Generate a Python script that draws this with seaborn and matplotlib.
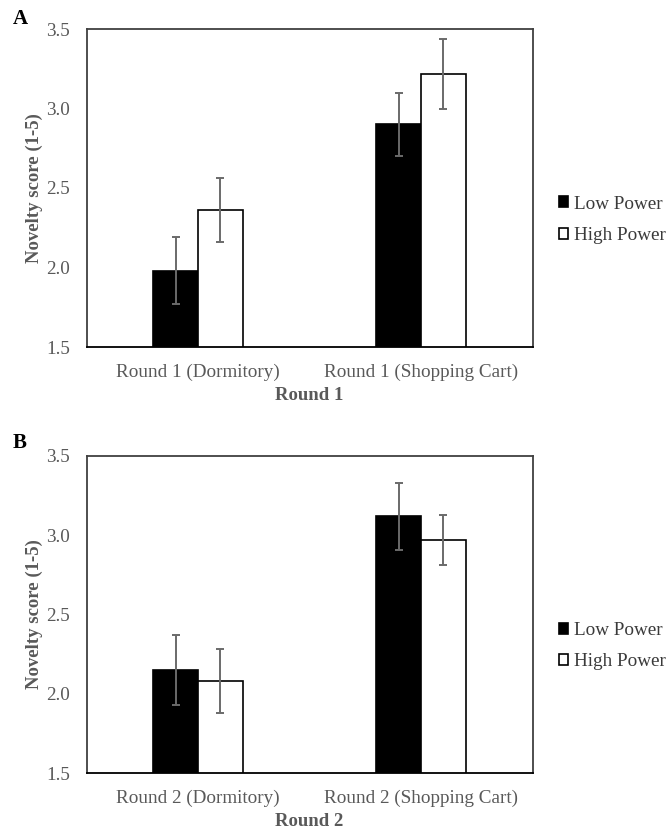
import matplotlib
matplotlib.use("Agg")
import matplotlib.pyplot as plt
import seaborn as sns
import pandas as pd

# Values
power_levels = ["Low Power", "High Power"]

round1_conditions = ["Round 1 (Dormitory)", "Round 1 (Shopping Cart)"]
round1_low = [1.98, 2.90]
round1_high = [2.36, 3.22]
round1_low_err = [0.21, 0.20]
round1_high_err = [0.20, 0.22]

round2_conditions = ["Round 2 (Dormitory)", "Round 2 (Shopping Cart)"]
round2_low = [2.15, 3.12]
round2_high = [2.08, 2.97]
round2_low_err = [0.22, 0.21]
round2_high_err = [0.20, 0.16]

y_ticks = [1.5, 2.0, 2.5, 3.0, 3.5]

sns.set_theme(style="white")
plt.rcParams["font.family"] = ["Liberation Serif", "DejaVu Serif"]

TICK_GREY = "#595959"
SPINE_GREY = "#404040"


def build_frame(conditions, low, high, low_err, high_err):
    rows = []
    for i, cond in enumerate(conditions):
        rows.append({"condition": cond, "power": "Low Power", "score": low[i], "err": low_err[i]})
        rows.append({"condition": cond, "power": "High Power", "score": high[i], "err": high_err[i]})
    return pd.DataFrame(rows)


def draw_panel(ax, df, conditions, xlabel):
    sns.barplot(
        data=df, x="condition", y="score", hue="power",
        order=conditions, hue_order=power_levels,
        palette={"Low Power": "black", "High Power": "white"},
        edgecolor="black", linewidth=1.2, width=0.4,
        errorbar=None, ax=ax,
    )
    # error bars placed on the bars seaborn drew
    for container, level in zip(ax.containers, power_levels):
        sub = df[df["power"] == level].set_index("condition").loc[conditions]
        xs = [p.get_x() + p.get_width() / 2 for p in container.patches]
        ax.errorbar(xs, sub["score"].values, yerr=sub["err"].values,
                    fmt="none", ecolor="#6a6a6a", elinewidth=1.4,
                    capsize=2.8, capthick=1.4, zorder=5)

    ax.set_ylim(1.5, 3.5)
    ax.set_xlim(-0.5, 1.5)
    ax.set_yticks(y_ticks)
    ax.set_yticklabels([f"{t:.1f}" for t in y_ticks])
    ax.tick_params(axis="both", length=0, labelsize=13.8, colors=TICK_GREY)
    ax.tick_params(axis="y", pad=12)
    ax.tick_params(axis="x", pad=12)
    ax.set_ylabel("Novelty score (1-5)", fontsize=13.5, fontweight="bold",
                  color=TICK_GREY)
    ax.yaxis.set_label_coords(-0.097, 0.5)
    ax.set_xlabel(xlabel, fontsize=13.5, fontweight="bold", color=TICK_GREY,
                  labelpad=4)
    for side, spine in ax.spines.items():
        spine.set_visible(True)
        spine.set_color(SPINE_GREY)
        spine.set_linewidth(1.3)
    ax.spines["bottom"].set_color("black")

    handles, labels = ax.get_legend_handles_labels()
    ax.legend(handles, labels, loc="center left", bbox_to_anchor=(1.059, 0.40),
              frameon=False, fontsize=13.8, handlelength=0.5, handleheight=0.5,
              handletextpad=0.3, labelspacing=0.75, labelcolor="#3a3a3a",
              borderaxespad=0, borderpad=0)


fig = plt.figure(figsize=(6.67, 8.31), dpi=100)
ax_a = fig.add_axes([86.5 / 667, 1 - 347 / 831, 446 / 667, 318 / 831])
ax_b = fig.add_axes([86.5 / 667, 1 - 773 / 831, 446 / 667, 317 / 831])

df1 = build_frame(round1_conditions, round1_low, round1_high, round1_low_err, round1_high_err)
df2 = build_frame(round2_conditions, round2_low, round2_high, round2_low_err, round2_high_err)

draw_panel(ax_a, df1, round1_conditions, "Round 1")
draw_panel(ax_b, df2, round2_conditions, "Round 2")

fig.text(20 / 667, 1 - 19 / 831, "A", fontsize=15, fontweight="bold",
         color="black", ha="center", va="center")
fig.text(20 / 667, 1 - 443 / 831, "B", fontsize=15, fontweight="bold",
         color="black", ha="center", va="center")

fig.savefig("out.png", dpi=100)
